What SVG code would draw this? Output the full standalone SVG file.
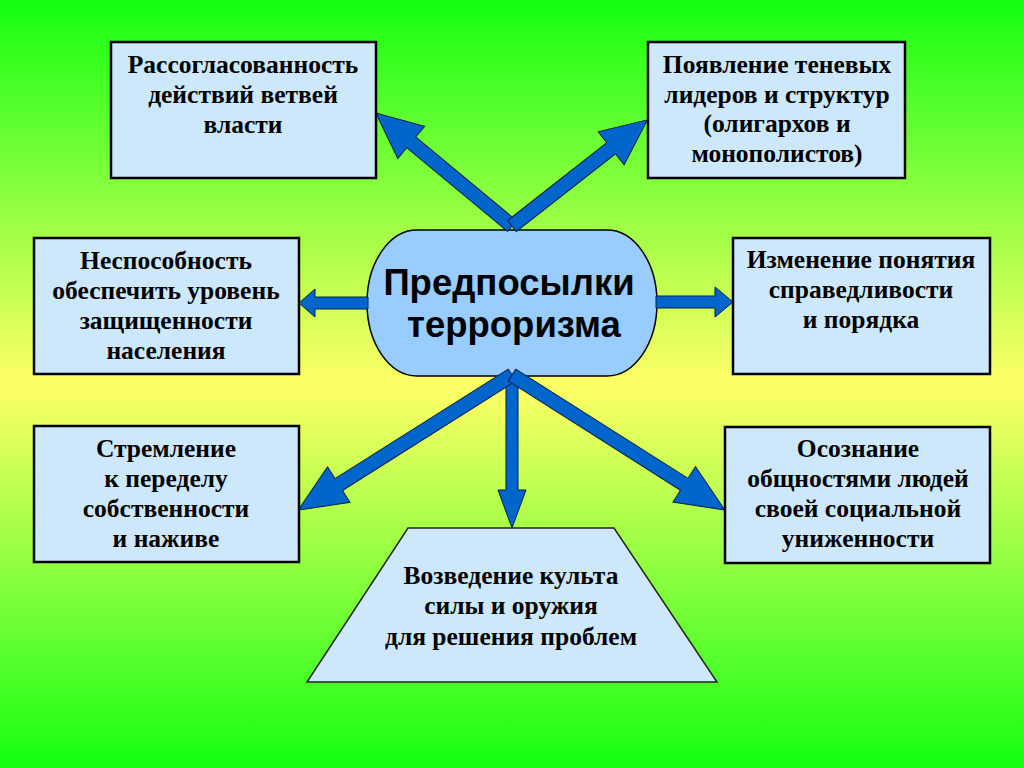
<svg xmlns="http://www.w3.org/2000/svg" width="1024" height="768" viewBox="0 0 1024 768">
<defs>
<linearGradient id="bg" x1="0" y1="0" x2="0" y2="1">
<stop offset="0" stop-color="#14ff14"/>
<stop offset="0.5" stop-color="#ffff66"/>
<stop offset="1" stop-color="#14ff14"/>
</linearGradient>
<style>
.box{fill:#cce8fa;stroke:#000;stroke-width:2.5}
.t{font-family:"Liberation Serif","Times New Roman",serif;font-weight:bold;font-size:25.5px;fill:#000;text-anchor:middle}
.c{font-family:"Liberation Sans",Arial,sans-serif;font-weight:bold;font-size:36.5px;fill:#000;text-anchor:middle}
.arr{fill:#0066cc;stroke:#001f4d;stroke-width:1;stroke-linejoin:miter}
</style>
</defs>
<rect x="0" y="0" width="1024" height="768" fill="url(#bg)"/>

<g id="node-center">
<rect x="367" y="230" width="290" height="146" rx="50" ry="73" fill="#99ccff" stroke="#000" stroke-width="1.5"/>
<text class="c" x="509" y="295">Предпосылки</text>
<text class="c" x="514" y="337">терроризма</text>
</g>

<g id="connectors">
<polygon class="arr" transform="translate(512,226) rotate(-140.3)" points="0,-7 131,-7 131,-21 177,0 131,21 131,7 0,7"/>
<polygon class="arr" transform="translate(512,226) rotate(-38.1)" points="0,-7 126,-7 126,-21 172,0 126,21 126,7 0,7"/>
<polygon class="arr" transform="translate(368,303) rotate(180)" points="0,-6 53,-6 53,-14 69,0 53,14 53,6 0,6"/>
<polygon class="arr" transform="translate(656,302)" points="0,-6 59,-6 59,-15 77,0 59,15 59,6 0,6"/>
<polygon class="arr" transform="translate(512,375) rotate(90)" points="0,-6 115,-6 115,-14 153,0 115,14 115,6 0,6"/>
<polygon class="arr" transform="translate(512,375) rotate(147.7)" points="0,-7 205,-7 205,-21 253,0 205,21 205,7 0,7"/>
<polygon class="arr" transform="translate(512,375) rotate(32.4)" points="0,-7 204,-7 204,-21 252,0 204,21 204,7 0,7"/>
</g>

<g id="node-rassoglasovannost">
<rect class="box" x="111" y="42" width="265" height="136"/>
<text class="t" x="243" y="73">Рассогласованность</text>
<text class="t" x="243" y="103">действий ветвей</text>
<text class="t" x="243" y="133">власти</text>
</g>

<g id="node-tenevye">
<rect class="box" x="648" y="42" width="257" height="136"/>
<text class="t" x="777" y="73">Появление теневых</text>
<text class="t" x="777" y="103">лидеров и структур</text>
<text class="t" x="777" y="132">(олигархов и</text>
<text class="t" x="777" y="162">монополистов)</text>
</g>

<g id="node-nesposobnost">
<rect class="box" x="34" y="238" width="265" height="136"/>
<text class="t" x="166" y="269">Неспособность</text>
<text class="t" x="166" y="299">обеспечить уровень</text>
<text class="t" x="166" y="329">защищенности</text>
<text class="t" x="166" y="359">населения</text>
</g>

<g id="node-izmenenie">
<rect class="box" x="733" y="238" width="257" height="136"/>
<text class="t" x="861" y="268">Изменение понятия</text>
<text class="t" x="861" y="298">справедливости</text>
<text class="t" x="861" y="328">и порядка</text>
</g>

<g id="node-stremlenie">
<rect class="box" x="34" y="426" width="265" height="136"/>
<text class="t" x="166" y="457">Стремление</text>
<text class="t" x="166" y="487">к переделу</text>
<text class="t" x="166" y="517">собственности</text>
<text class="t" x="166" y="547">и наживе</text>
</g>

<g id="node-osoznanie">
<rect class="box" x="725" y="427" width="265" height="136"/>
<text class="t" x="858" y="457">Осознание</text>
<text class="t" x="858" y="487">общностями людей</text>
<text class="t" x="858" y="517">своей социальной</text>
<text class="t" x="858" y="547">униженности</text>
</g>

<g id="node-kult">
<polygon points="408,528 614,528 717,682 307,682" fill="#cce8fa" stroke="#222" stroke-width="1.5"/>
<text class="t" x="511" y="584">Возведение культа</text>
<text class="t" x="511" y="614">силы и оружия</text>
<text class="t" x="511" y="645">для решения проблем</text>
</g>
</svg>
